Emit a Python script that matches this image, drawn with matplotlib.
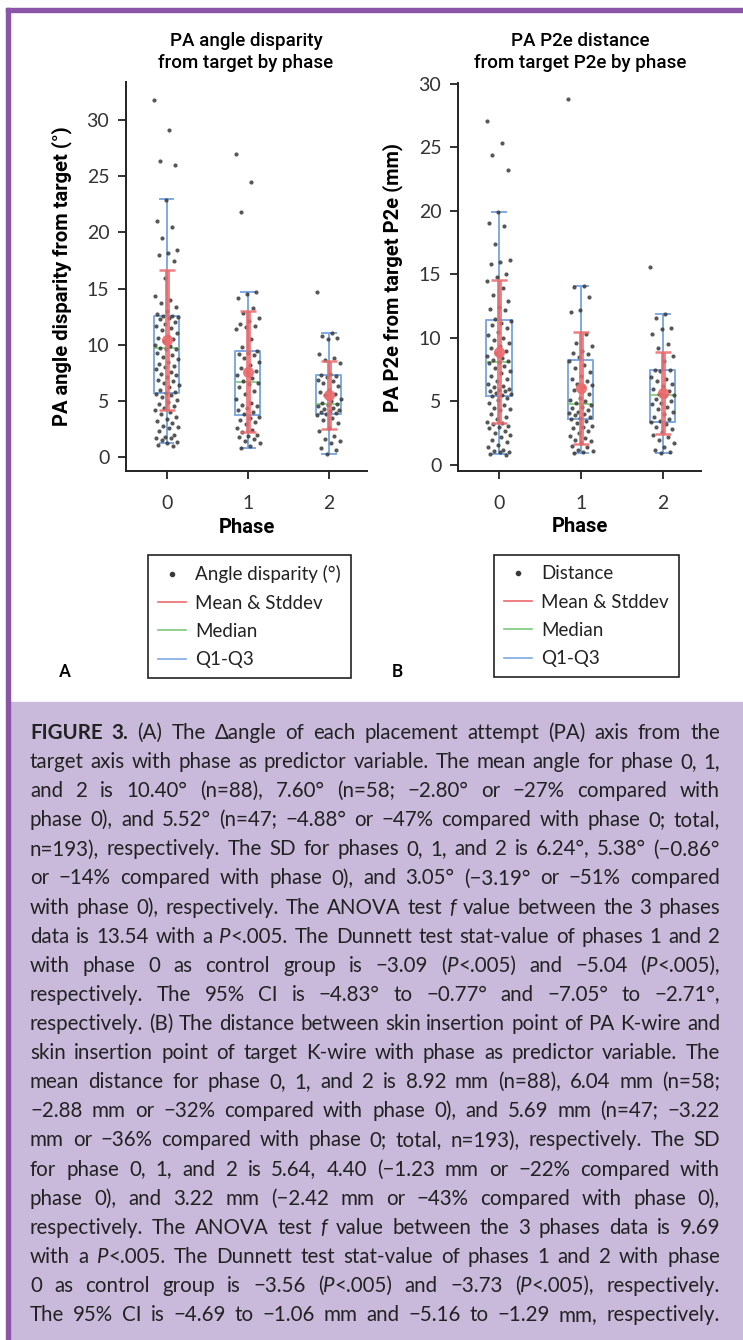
import matplotlib
matplotlib.use('Agg')
import matplotlib.pyplot as plt
import numpy as np
from matplotlib.lines import Line2D
from matplotlib.patches import Rectangle

W, H = 743, 1340

phases = [0, 1, 2]
phase_labels = ['0', '1', '2']

# panel A - angle disparity (deg) per attempt
angle_p0 = [31.8, 29.1, 26.4, 26.0, 22.9, 21.0, 20.5, 19.5, 18.4, 18.2, 18.0, 17.5, 15.9,
            14.3, 14.0, 13.7, 13.4, 13.0, 12.7, 12.6, 12.6, 12.5, 12.4, 12.3, 12.0, 11.8,
            11.7, 11.5, 11.3, 11.0, 10.8, 10.6, 10.5, 10.3, 10.0, 9.9, 9.7, 9.6, 9.6, 9.3,
            9.1, 8.9, 8.7, 8.5, 8.3, 8.1, 8.0, 7.8, 7.6, 7.4, 7.3, 7.1, 6.9, 6.8, 6.6, 6.4,
            6.2, 6.0, 5.8, 5.7, 5.6, 5.5, 5.3, 5.1, 4.9, 4.7, 4.5, 4.4, 4.2, 4.0, 3.8, 3.6,
            3.4, 3.2, 3.0, 2.8, 2.7, 2.6, 2.3, 2.0, 1.8, 1.7, 1.7, 1.5, 1.3, 1.2, 1.1, 1.0]
angle_p1 = [27.0, 24.5, 21.8, 14.7, 14.5, 14.2, 13.3, 12.8, 12.4, 12.1, 11.8, 11.7, 11.6,
            11.4, 10.5, 9.8, 9.4, 9.3, 9.2, 9.1, 8.8, 8.5, 8.2, 7.9, 7.7, 7.6, 7.3, 7.0,
            6.8, 6.6, 6.5, 6.2, 5.9, 5.6, 5.2, 4.8, 4.6, 4.5, 4.4, 4.2, 4.0, 3.8, 3.6, 3.5,
            3.3, 3.1, 2.9, 2.6, 2.4, 2.2, 2.0, 1.9, 1.8, 1.6, 1.4, 1.2, 1.0, 0.8]
angle_p2 = [14.7, 11.0, 10.8, 10.6, 10.5, 9.2, 8.8, 8.6, 8.4, 7.4, 7.3, 7.2, 7.1, 6.9,
            6.8, 6.6, 6.3, 6.0, 5.8, 5.6, 5.5, 5.2, 5.0, 4.8, 4.7, 4.6, 4.5, 4.4, 4.3, 4.2,
            4.1, 4.0, 3.9, 3.8, 3.7, 3.5, 3.3, 3.0, 2.6, 2.3, 1.9, 1.6, 1.4, 1.2, 0.8, 0.6, 0.3]
angle_mean = [10.40, 7.60, 5.52]
angle_sd = [6.24, 5.38, 3.05]
angle_median = [9.7, 6.7, 4.7]
angle_q1 = [5.7, 3.7, 3.8]
angle_q3 = [12.6, 9.4, 7.3]
angle_whislo = [1.2, 0.8, 0.3]
angle_whishi = [23.0, 14.7, 11.0]

# panel B - P2e distance (mm)
dist_p0 = [27.1, 25.3, 24.4, 23.2, 19.9, 19.0, 18.8, 17.4, 16.1, 16.0, 15.8, 15.0, 14.8,
           14.5, 13.9, 13.4, 12.9, 12.4, 12.3, 12.2, 11.5, 11.3, 11.2, 11.0, 10.8, 10.5,
           10.2, 10.0, 9.8, 9.6, 9.4, 9.2, 9.0, 8.8, 8.6, 8.4, 8.3, 8.2, 8.1, 8.0, 7.8, 7.6,
           7.4, 7.2, 7.0, 6.8, 6.6, 6.4, 6.2, 6.1, 6.0, 5.9, 5.8, 5.8, 5.7, 5.6, 5.5, 5.4,
           5.3, 5.1, 4.9, 4.7, 4.5, 4.4, 4.3, 4.0, 3.8, 3.6, 3.4, 3.3, 3.2, 3.1, 3.0, 2.9,
           2.7, 2.5, 2.4, 2.2, 2.0, 1.8, 1.6, 1.4, 1.2, 1.1, 1.0, 1.0, 0.9, 0.8]
dist_p1 = [28.8, 14.1, 14.0, 13.2, 12.2, 12.0, 10.3, 9.6, 9.4, 9.0, 8.8, 8.7, 8.5, 8.2,
           7.9, 7.6, 7.3, 7.0, 6.8, 6.6, 6.4, 6.3, 6.1, 5.9, 5.6, 5.3, 5.1, 5.0, 4.9, 4.7,
           4.6, 4.5, 4.3, 4.2, 4.1, 4.0, 3.9, 3.8, 3.7, 3.6, 3.5, 3.3, 3.1, 3.0, 2.9, 2.7,
           2.5, 2.3, 2.1, 2.0, 1.9, 1.7, 1.5, 1.4, 1.2, 1.1, 1.0, 0.95]
dist_p2 = [15.6, 11.9, 11.6, 10.8, 10.7, 10.3, 9.5, 9.2, 8.6, 8.2, 7.5, 7.5, 7.4, 6.9,
           6.8, 6.6, 6.4, 6.2, 6.0, 5.8, 5.6, 5.5, 5.4, 5.2, 5.0, 4.9, 4.8, 4.6, 4.4, 4.2,
           4.0, 3.8, 3.6, 3.5, 3.4, 3.2, 3.0, 2.8, 2.6, 2.4, 2.2, 2.0, 1.7, 1.4, 1.2, 1.0, 0.95]
dist_mean = [8.92, 6.04, 5.69]
dist_sd = [5.64, 4.40, 3.22]
dist_median = [8.1, 4.8, 5.5]
dist_q1 = [5.4, 3.6, 3.4]
dist_q3 = [11.4, 8.3, 7.5]
dist_whislo = [0.9, 0.95, 0.95]
dist_whishi = [19.9, 14.1, 11.9]

angle_yticks = [0, 5, 10, 15, 20, 25, 30]
dist_yticks = [0, 5, 10, 15, 20, 25, 30]

caption = [
    "*FIGURE* *3.* (A) The Δangle of each placement attempt (PA) axis from the",
    "target axis with phase as predictor variable. The mean angle for phase 0, 1,",
    "and 2 is 10.40° (n=88), 7.60° (n=58; −2.80° or −27% compared with",
    "phase 0), and 5.52° (n=47; −4.88° or −47% compared with phase 0; total,",
    "n=193), respectively. The SD for phases 0, 1, and 2 is 6.24°, 5.38° (−0.86°",
    "or −14% compared with phase 0), and 3.05° (−3.19° or −51% compared",
    "with phase 0), respectively. The ANOVA test _f_ value between the 3 phases",
    "data is 13.54 with a _P_<.005. The Dunnett test stat-value of phases 1 and 2",
    "with phase 0 as control group is −3.09 (_P_<.005) and −5.04 (_P_<.005),",
    "respectively. The 95% CI is −4.83° to −0.77° and −7.05° to −2.71°,",
    "respectively. (B) The distance between skin insertion point of PA K-wire and",
    "skin insertion point of target K-wire with phase as predictor variable. The",
    "mean distance for phase 0, 1, and 2 is 8.92 mm (n=88), 6.04 mm (n=58;",
    "−2.88 mm or −32% compared with phase 0), and 5.69 mm (n=47; −3.22",
    "mm or −36% compared with phase 0; total, n=193), respectively. The SD",
    "for phase 0, 1, and 2 is 5.64, 4.40 (−1.23 mm or −22% compared with",
    "phase 0), and 3.22 mm (−2.42 mm or −43% compared with phase 0),",
    "respectively. The ANOVA test _f_ value between the 3 phases data is 9.69",
    "with a _P_<.005. The Dunnett test stat-value of phases 1 and 2 with phase",
    "0 as control group is −3.56 (_P_<.005) and −3.73 (_P_<.005), respectively.",
    "The 95% CI is −4.69 to −1.06 mm and −5.16 to −1.29 mm, respectively.",
]

RED = '#ec6a6c'
BLUE = '#7ea9e3'
GREEN = '#7cc97c'
DOT = '#3a3a3a'
PURPLE = '#8a55a6'
LILAC = '#c9badb'
TXT = '#222222'

plt.rcParams['font.family'] = ['Lato', 'DejaVu Sans']
plt.rcParams['axes.labelweight'] = 'bold'


def px(x0, y0, x1, y1):
    return [x0 / W, 1 - y1 / H, (x1 - x0) / W, (y1 - y0) / H]


def panel(ax, groups, mean, sd, med, q1, q3, lo, hi, ylim, yticks, ylabel, title, cx):
    stats = []
    for i in range(3):
        stats.append(dict(med=med[i], q1=q1[i], q3=q3[i], whislo=lo[i], whishi=hi[i], fliers=[]))
    ax.bxp(stats, positions=phases, widths=0.31, capwidths=0.17, showfliers=False,
           boxprops=dict(color=BLUE, lw=1.4), whiskerprops=dict(color=BLUE, lw=1.4),
           capprops=dict(color=BLUE, lw=1.4), medianprops=dict(color=GREEN, lw=1.2),
           manage_ticks=False, zorder=2)
    for i, vals in enumerate(groups):
        n = len(vals)
        jit = ((np.arange(n) * 0.618034) % 1 - 0.5) * 0.3
        ax.scatter(phases[i] + jit, vals, s=9, color=DOT, alpha=0.85, lw=0, zorder=3)
    ax.errorbar(phases, mean, yerr=sd, fmt='o', color=RED, ecolor=RED, elinewidth=3.5,
                capsize=6, capthick=1.8, ms=7, alpha=0.85, zorder=4)
    ax.set_xlim(-0.5, 2.47)
    ax.set_ylim(*ylim)
    ax.set_xticks(phases, phase_labels)
    ax.set_yticks(yticks)
    for s in ['top', 'right']:
        ax.spines[s].set_visible(False)
    for s in ['left', 'bottom']:
        ax.spines[s].set_linewidth(1.4)
        ax.spines[s].set_color('#222222')
    ax.tick_params(axis='both', direction='out', length=6, width=1.3, color='#222222',
                   labelsize=14, labelcolor='#333333')
    ax.tick_params(axis='x', pad=11)
    ax.tick_params(axis='y', pad=6)
    ax.set_ylabel(ylabel, fontsize=14.5, family=['Roboto', 'DejaVu Sans'], weight='bold')
    ax.yaxis.set_label_coords(-0.225, 0.5)
    ax.set_xlabel('Phase', fontsize=14.5, family=['Roboto', 'DejaVu Sans'], weight='bold')
    ax.xaxis.set_label_coords(0.5, -0.144)
    ax.xaxis.label.set_va('center')
    fig.text(cx / W, 1 - 52 / H, title, ha='center', va='center', fontsize=13.5,
             family=['Roboto', 'DejaVu Sans'], weight='medium', linespacing=1.3)


def parse(line):
    words = []
    for w in line.split(' '):
        segs, buf, bold, ital = [], '', False, False
        for ch in w:
            if ch in '*_':
                if buf:
                    segs.append((buf, bold, ital))
                    buf = ''
                if ch == '*':
                    bold = not bold
                else:
                    ital = not ital
            else:
                buf += ch
        if buf:
            segs.append((buf, bold, ital))
        words.append(segs)
    return words


def seg_text(s, b, it, y, size):
    return fig.text(0, y, s, fontsize=size, va='baseline', color=TXT,
                    weight='bold' if b else 'normal', style='italic' if it else 'normal')


def justify(lines, x0, x1, ytop, dy):
    r = fig.canvas.get_renderer()
    parsed = [parse(l) for l in lines]
    # pick a size so the widest line fits with ordinary spaces
    ref = 10
    sp = seg_text('a a', False, False, 0, ref)
    spw = sp.get_window_extent(r).width
    sp.set_text('aa')
    spw -= sp.get_window_extent(r).width
    sp.remove()
    scale = 10
    for words in parsed:
        tot = 0
        for segs in words:
            for s, b, it in segs:
                t = seg_text(s, b, it, 0, ref)
                tot += t.get_window_extent(r).width
                t.remove()
        tot += spw * (len(words) - 1)
        scale = min(scale, (x1 - x0) / tot)
    size = ref * scale * 0.995
    for i, words in enumerate(parsed):
        y = 1 - (ytop + i * dy) / H
        placed = []
        for segs in words:
            items, width = [], 0
            for s, b, it in segs:
                t = seg_text(s, b, it, y, size)
                items.append((t, width))
                width += t.get_window_extent(r).width
            placed.append((items, width))
        total = sum(w for _, w in placed)
        gap = (x1 - x0 - total) / max(len(placed) - 1, 1)
        x = x0
        for items, wd in placed:
            for t, off in items:
                t.set_x((x + off) / W)
            x += wd + gap


fig = plt.figure(figsize=(W / 100, H / 100), dpi=100)

# frame and caption background
fig.patches.append(Rectangle((9 / W, 0), 1, 1 - 702 / H, transform=fig.transFigure,
                             color=LILAC, zorder=0))
fig.patches.append(Rectangle((6 / W, 0), 3.5 / W, 1 - 8 / H, transform=fig.transFigure,
                             color=PURPLE, zorder=1))
fig.patches.append(Rectangle((6 / W, 1 - 11.5 / H), 1, 3.5 / H, transform=fig.transFigure,
                             color=PURPLE, zorder=1))

axA = fig.add_axes(px(126, 82, 367, 471))
axB = fig.add_axes(px(458, 83, 701, 471))

panel(axA, [angle_p0, angle_p1, angle_p2], angle_mean, angle_sd, angle_median,
      angle_q1, angle_q3, angle_whislo, angle_whishi, (-1.25, 33.4), angle_yticks,
      'PA angle disparity from target (°)', 'PA angle disparity\nfrom target by phase', 246)
panel(axB, [dist_p0, dist_p1, dist_p2], dist_mean, dist_sd, dist_median,
      dist_q1, dist_q3, dist_whislo, dist_whishi, (-0.47, 30.05), dist_yticks,
      'PA P2e from target P2e (mm)', 'PA P2e distance\nfrom target P2e by phase', 580)

for lab, x0 in [('Angle disparity (°)', 148), ('Distance', 494)]:
    handles = [Line2D([], [], marker='o', ls='none', color=DOT, ms=3),
               Line2D([], [], color=RED, lw=1.2),
               Line2D([], [], color=GREEN, lw=1.2),
               Line2D([], [], color=BLUE, lw=1.2)]
    leg = fig.legend(handles, [lab, 'Mean & Stddev', 'Median', 'Q1-Q3'],
                     loc='upper left', bbox_to_anchor=(x0 / W, 1 - 555 / H),
                     fontsize=13.5, frameon=True, fancybox=False, edgecolor='#222222',
                     framealpha=1, handlelength=1.5, handletextpad=0.45,
                     labelspacing=0.6, borderpad=0.55, borderaxespad=0, labelcolor=TXT)
    leg.get_frame().set_linewidth(1.2)

fig.text(65 / W, 1 - 672 / H, 'A', fontsize=13, weight='medium', ha='center', va='center',
         family=['Roboto', 'DejaVu Sans'])
fig.text(397 / W, 1 - 672 / H, 'B', fontsize=13, weight='medium', ha='center', va='center',
         family=['Roboto', 'DejaVu Sans'])

justify(caption, 30, 720, 739, 29.1)

fig.savefig('out.png', dpi=100)
